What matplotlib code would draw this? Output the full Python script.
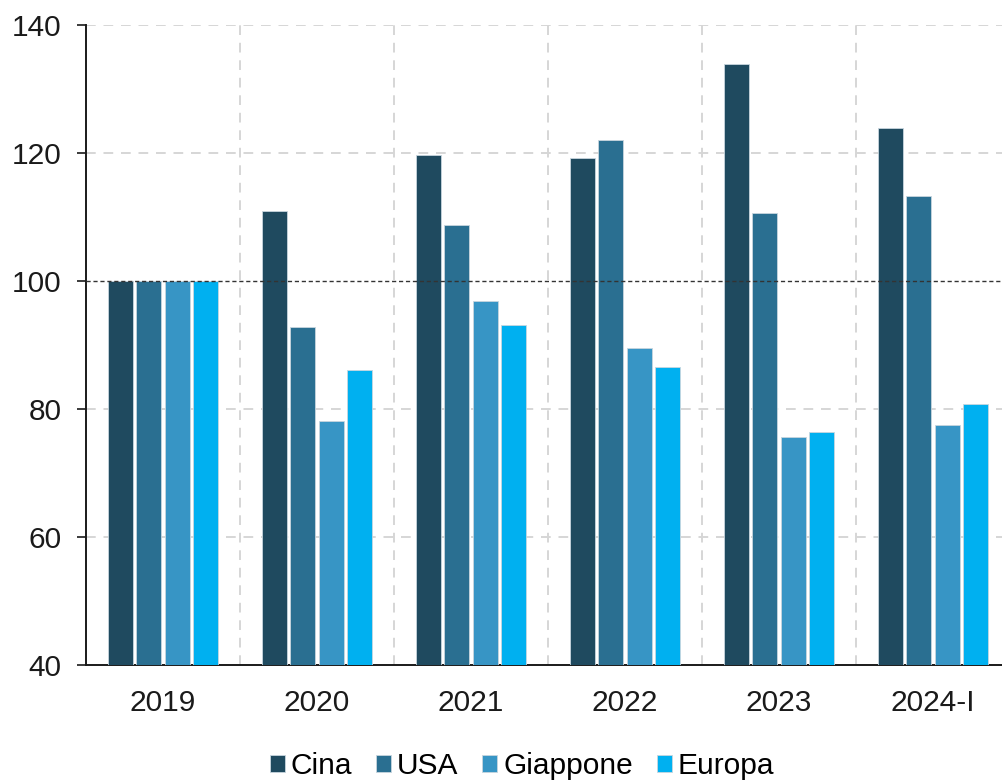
import numpy as np
from matplotlib import pyplot as plt

plt.rcParams['font.family'] = ['Liberation Sans', 'DejaVu Sans']

categories = ['2019', '2020', '2021', '2022', '2023', '2024-I']
cina = [100, 110.9, 119.7, 119.2, 133.9, 123.9]
usa = [100, 92.8, 108.7, 122.0, 110.7, 113.3]
giappone = [100, 78.1, 96.9, 89.5, 75.6, 77.5]
europa = [100, 86.1, 93.1, 86.6, 76.4, 80.8]

series = [('Cina', cina, '#1f4a5f'),
          ('USA', usa, '#2a6f91'),
          ('Giappone', giappone, '#3795c5'),
          ('Europa', europa, '#00b0f0')]

fig = plt.figure(figsize=(10.03, 7.81), dpi=100)
ax = fig.add_axes([86 / 1003, 1 - 665 / 781, 924 / 1003, 640 / 781])

x = np.arange(len(categories))
stride = 0.185
width = 0.165
for i, (name, vals, col) in enumerate(series):
    ax.bar(x + (i - 1.5) * stride, np.array(vals) - 40, width, bottom=40,
           color=col, edgecolor='#c8d6de', linewidth=0.6, label=name, zorder=3)

ax.set_xlim(-0.5, 5.5)
ax.set_ylim(40, 140)
ax.set_yticks([40, 60, 80, 100, 120, 140])
ax.set_xticks(x)
ax.set_xticklabels(categories)
ax.tick_params(axis='x', which='both', length=0, labelsize=21.5, pad=17, colors='#1a1a1a')
ax.tick_params(axis='y', length=6.5, width=1.2, labelsize=21.5, pad=11, colors='#1a1a1a')

for yv in [60, 80, 120, 140]:
    ax.axhline(yv, color='#d6d6d6', linestyle=(0, (5, 4)), linewidth=1.4, zorder=1)
for xv in np.arange(0.5, 5.5, 1):
    ax.axvline(xv, color='#d6d6d6', linestyle=(0, (5, 4)), linewidth=1.4, zorder=1)
ax.axhline(100, color='#333333', linestyle=(0, (3, 2)), linewidth=1.0, zorder=4)

for s in ['top', 'right']:
    ax.spines[s].set_visible(False)
ax.spines['left'].set_linewidth(1.4)
ax.spines['bottom'].set_linewidth(1.4)
ax.spines['left'].set_color('#1a1a1a')
ax.spines['bottom'].set_color('#1a1a1a')

fig.legend(loc='center', bbox_to_anchor=(522 / 1003, 1 - 766 / 781), ncol=4,
           frameon=False, fontsize=21.5, handlelength=0.5, handleheight=0.5,
           handletextpad=0.2, columnspacing=0.8, borderpad=0)

fig.savefig('out.png', dpi=100)
